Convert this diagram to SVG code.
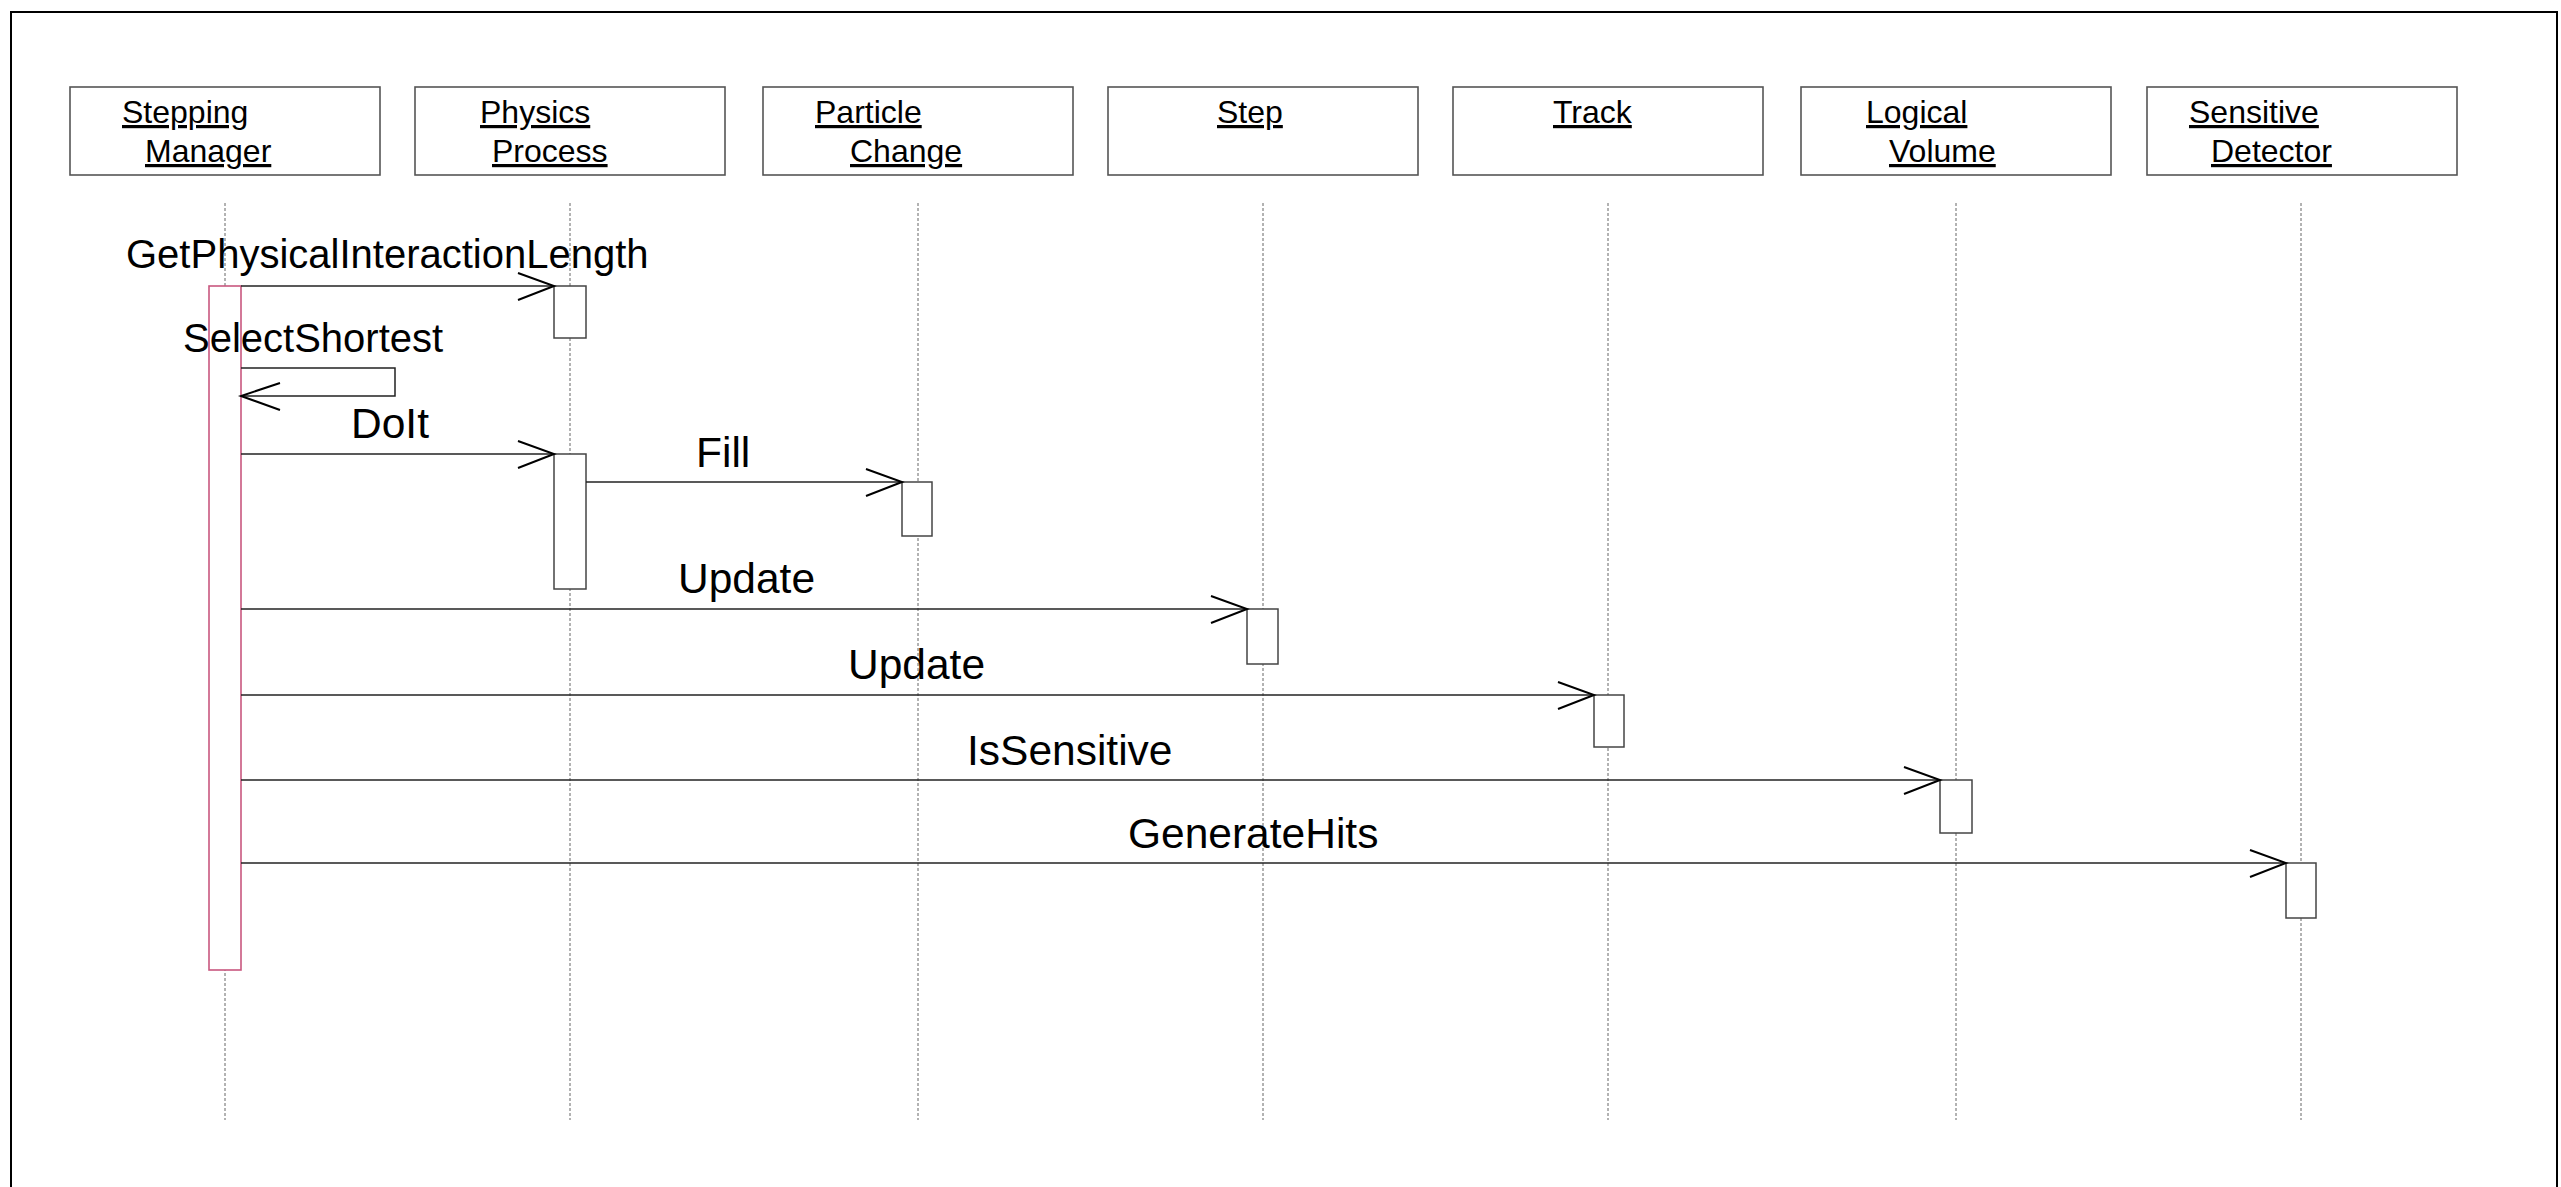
<svg xmlns="http://www.w3.org/2000/svg" width="2561" height="1187" viewBox="0 0 2561 1187">
<style>
.frame{fill:none;stroke:#000;stroke-width:2}
.obj{fill:#fff;stroke:#555;stroke-width:1.6}
.name{font-family:"Liberation Sans",Arial,sans-serif;font-size:32px;fill:#000;text-decoration:underline}
.life{stroke:#666;stroke-width:1;stroke-dasharray:3,2;fill:none}
.act{fill:#fff;stroke:#444;stroke-width:1.5}
.pink{fill:#fff;stroke:#c9577f;stroke-width:1.6}
.msg{stroke:#222;stroke-width:1.5;fill:none}
.head{stroke:#000;stroke-width:2;fill:none}
.lbl{font-family:"Liberation Sans",Arial,sans-serif;font-size:42.5px;fill:#000}
.lbl.s{font-size:40px}
</style>
<rect x="0" y="0" width="2561" height="1187" fill="#fff"/>
<rect class="frame" x="11" y="12" width="2546" height="1190"/>

<g id="lifelines">
<line class="life" x1="225" y1="203" x2="225" y2="1120"/>
<line class="life" x1="570" y1="203" x2="570" y2="1120"/>
<line class="life" x1="918" y1="203" x2="918" y2="1120"/>
<line class="life" x1="1263" y1="203" x2="1263" y2="1120"/>
<line class="life" x1="1608" y1="203" x2="1608" y2="1120"/>
<line class="life" x1="1956" y1="203" x2="1956" y2="1120"/>
<line class="life" x1="2301" y1="203" x2="2301" y2="1120"/>
</g>

<g id="node-stepping-manager">
<rect class="obj" x="70" y="87" width="310" height="88"/>
<text class="name" x="122" y="123">Stepping</text>
<text class="name" x="145" y="162">Manager</text>
</g>
<g id="node-physics-process">
<rect class="obj" x="415" y="87" width="310" height="88"/>
<text class="name" x="480" y="123">Physics</text>
<text class="name" x="492" y="162">Process</text>
</g>
<g id="node-particle-change">
<rect class="obj" x="763" y="87" width="310" height="88"/>
<text class="name" x="815" y="123">Particle</text>
<text class="name" x="850" y="162">Change</text>
</g>
<g id="node-step">
<rect class="obj" x="1108" y="87" width="310" height="88"/>
<text class="name" x="1217" y="123">Step</text>
</g>
<g id="node-track">
<rect class="obj" x="1453" y="87" width="310" height="88"/>
<text class="name" x="1553" y="123">Track</text>
</g>
<g id="node-logical-volume">
<rect class="obj" x="1801" y="87" width="310" height="88"/>
<text class="name" x="1866" y="123">Logical</text>
<text class="name" x="1889" y="162">Volume</text>
</g>
<g id="node-sensitive-detector">
<rect class="obj" x="2147" y="87" width="310" height="88"/>
<text class="name" x="2189" y="123">Sensitive</text>
<text class="name" x="2211" y="162">Detector</text>
</g>

<g id="activations">
<rect class="pink" x="209" y="286" width="32" height="684"/>
<rect class="act" x="554" y="286" width="32" height="52"/>
<rect class="act" x="554" y="454" width="32" height="135"/>
<rect class="act" x="902" y="482" width="30" height="54"/>
<rect class="act" x="1247" y="609" width="31" height="55"/>
<rect class="act" x="1594" y="695" width="30" height="52"/>
<rect class="act" x="1940" y="780" width="32" height="53"/>
<rect class="act" x="2286" y="863" width="30" height="55"/>
</g>

<g id="connectors">
<line class="msg" x1="241" y1="286" x2="554" y2="286"/>
<polyline class="head" points="518,273 554,286 518,300"/>
<polyline class="msg" points="241,368 395,368 395,396 241,396"/>
<polyline class="head" points="280,383 241,396 280,410"/>
<line class="msg" x1="241" y1="454" x2="554" y2="454"/>
<polyline class="head" points="518,441 554,454 518,468"/>
<line class="msg" x1="586" y1="482" x2="902" y2="482"/>
<polyline class="head" points="866,469 902,482 866,496"/>
<line class="msg" x1="241" y1="609" x2="1247" y2="609"/>
<polyline class="head" points="1211,596 1247,609 1211,623"/>
<line class="msg" x1="241" y1="695" x2="1594" y2="695"/>
<polyline class="head" points="1558,682 1594,695 1558,709"/>
<line class="msg" x1="241" y1="780" x2="1940" y2="780"/>
<polyline class="head" points="1904,767 1940,780 1904,794"/>
<line class="msg" x1="241" y1="863" x2="2286" y2="863"/>
<polyline class="head" points="2250,850 2286,863 2250,877"/>
</g>

<g id="labels">
<text class="lbl s" x="126" y="268">GetPhysicalInteractionLength</text>
<text class="lbl s" x="183" y="352">SelectShortest</text>
<text class="lbl" x="351" y="438">DoIt</text>
<text class="lbl" x="696" y="467">Fill</text>
<text class="lbl" x="678" y="593">Update</text>
<text class="lbl" x="848" y="679">Update</text>
<text class="lbl" x="967" y="765">IsSensitive</text>
<text class="lbl" x="1128" y="848">GenerateHits</text>
</g>
</svg>
